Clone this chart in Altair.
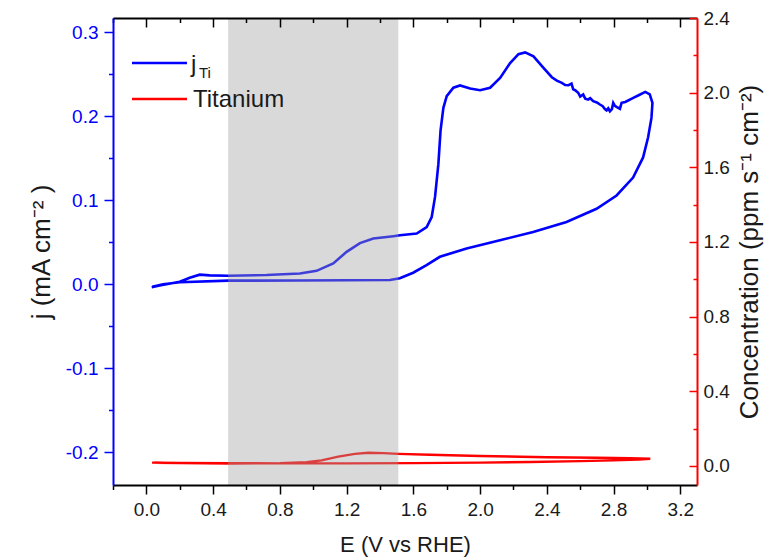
import altair as alt
import pandas as pd

# ---------------- data ----------------
# j_Ti cyclic voltammogram: (E / V vs RHE, j / mA cm^-2) in scan order
jti_points = [
    (0.032, -0.0036), (0.08, -0.0015), (0.12, 0.000), (0.20, 0.003), (0.26, 0.0078),
    (0.32, 0.0114), (0.38, 0.0106), (0.49, 0.0101), (0.72, 0.011), (0.92, 0.0128),
    (1.02, 0.016), (1.12, 0.0248), (1.20, 0.0386), (1.28, 0.049), (1.36, 0.0544),
    (1.48, 0.0572), (1.52, 0.0583), (1.62, 0.0603), (1.68, 0.068), (1.71, 0.080),
    (1.73, 0.104), (1.75, 0.143), (1.763, 0.183), (1.78, 0.210), (1.80, 0.224),
    (1.84, 0.234), (1.88, 0.2367), (1.94, 0.233), (2.00, 0.231), (2.06, 0.234),
    (2.12, 0.2457), (2.18, 0.2634), (2.23, 0.274), (2.27, 0.276), (2.32, 0.2714),
    (2.38, 0.2576), (2.43, 0.2465), (2.46, 0.2425), (2.49, 0.2398), (2.51, 0.2372),
    (2.53, 0.237), (2.548, 0.2388), (2.558, 0.232), (2.57, 0.231), (2.588, 0.228),
    (2.60, 0.2235), (2.618, 0.226), (2.63, 0.221), (2.648, 0.220), (2.66, 0.2215),
    (2.678, 0.218), (2.70, 0.2165), (2.718, 0.214), (2.735, 0.212), (2.748, 0.2085),
    (2.758, 0.207), (2.768, 0.2095), (2.778, 0.206), (2.79, 0.2085), (2.798, 0.216),
    (2.808, 0.2125), (2.82, 0.211), (2.838, 0.209), (2.848, 0.216), (2.87, 0.217),
    (2.918, 0.222), (2.95, 0.225), (2.99, 0.229), (3.017, 0.226), (3.033, 0.216),
    (3.027, 0.198), (3.007, 0.175), (2.977, 0.151), (2.917, 0.127), (2.818, 0.1057),
    (2.698, 0.0899), (2.518, 0.0741), (2.318, 0.0623), (2.119, 0.0524), (1.919, 0.0426),
    (1.759, 0.0327), (1.679, 0.0228), (1.599, 0.0137), (1.519, 0.0071), (1.46, 0.0050),
    (1.20, 0.0048), (0.90, 0.0045), (0.49, 0.0043), (0.20, 0.0024), (0.10, 0.0000),
    (0.035, -0.0030),
]

# Titanium concentration: (E / V vs RHE, c / ppm s^-1 cm^-2) in scan order
ti_points = [
    (0.034, 0.018), (0.2, 0.015), (0.5, 0.013), (0.8, 0.015), (0.96, 0.020),
    (1.05, 0.030), (1.15, 0.050), (1.25, 0.065), (1.33, 0.071), (1.42, 0.069),
    (1.51, 0.065), (1.7, 0.060), (2.0, 0.053), (2.4, 0.047), (2.7, 0.044),
    (2.9, 0.041), (3.02, 0.039), (2.95, 0.034), (2.8, 0.030), (2.6, 0.026),
    (2.3, 0.021), (2.0, 0.018), (1.6, 0.015), (1.2, 0.014), (0.8, 0.014),
    (0.5, 0.015), (0.2, 0.016), (0.05, 0.017),
]

shade_range = [0.49, 1.51]          # shaded potential window

x_major = [0.0, 0.4, 0.8, 1.2, 1.6, 2.0, 2.4, 2.8, 3.2]
x_minor = [-0.2, 0.2, 0.6, 1.0, 1.4, 1.8, 2.2, 2.6, 3.0]
j_major = [-0.2, -0.1, 0.0, 0.1, 0.2, 0.3]
j_minor = [-0.15, -0.05, 0.05, 0.15, 0.25]
c_major = [0.0, 0.4, 0.8, 1.2, 1.6, 2.0, 2.4]
c_minor = [0.2, 0.6, 1.0, 1.4, 1.8, 2.2]

x_domain = [-0.2, 3.3]
j_domain = [-0.239, 0.317]
c_domain = [-0.102, 2.4]

# ---------------- build ----------------
df_j = pd.DataFrame({"E": [p[0] for p in jti_points],
                     "j": [p[1] for p in jti_points],
                     "i": list(range(len(jti_points)))})
df_c = pd.DataFrame({"E": [p[0] for p in ti_points],
                     "c": [p[1] for p in ti_points],
                     "i": list(range(len(ti_points)))})
df_shade = pd.DataFrame({"x0": [shade_range[0]], "x1": [shade_range[1]]})
one = pd.DataFrame({"k": [0]})

W, H = 584, 467
FONT = "Liberation Sans"
BLUE = "#0000ff"
RED = "#ff0000"
TXT = "#1a1a1a"
HYPHEN_LABEL = "replace(format(datum.value, '.1f'), '\u2212', '-')"

xs = alt.Scale(domain=x_domain, nice=False, zero=False)
js = alt.Scale(domain=j_domain, nice=False, zero=False)
cs = alt.Scale(domain=c_domain, nice=False, zero=False)

common = dict(grid=False, zindex=1, labelFont=FONT, titleFont=FONT)

# bottom / left major axes (with labels) on the visible j line
ax_bottom = alt.Axis(orient="bottom", values=x_major, format=".1f", tickSize=9, tickWidth=1.5,
                     tickColor="black", domainColor="black", domainWidth=2,
                     labelFontSize=19, labelColor=TXT, labelPadding=6,
                     title="E (V vs RHE)", titleFontSize=22, titleFontWeight="normal",
                     titleColor=TXT, titlePadding=15, **common)
ax_left = alt.Axis(orient="left", values=j_major, labelExpr=HYPHEN_LABEL, tickSize=9,
                   tickWidth=1.5, tickColor=BLUE, domainColor=BLUE, domainWidth=2,
                   labelFontSize=19, labelColor=BLUE, labelPadding=6,
                   title="j (mA cm⁻² )", titleFontSize=26, titleFontWeight="normal",
                   titleColor=TXT, titlePadding=11, **common)
blue_line = alt.Chart(df_j).mark_line(color=BLUE, strokeWidth=2.6).encode(
    x=alt.X("E:Q", scale=xs, axis=ax_bottom),
    y=alt.Y("j:Q", scale=js, axis=ax_left),
    order="i:Q",
)

# minor outward ticks, bottom and left
blue_minor = alt.Chart(df_j).mark_line(opacity=0).encode(
    x=alt.X("E:Q", scale=xs, axis=alt.Axis(orient="bottom", values=x_minor, tickSize=4.5,
                                            tickWidth=1.5, tickColor="black", domain=False,
                                            labels=False, title=None, **common)),
    y=alt.Y("j:Q", scale=js, axis=alt.Axis(orient="left", values=j_minor, tickSize=4.5,
                                            tickWidth=1.5, tickColor=BLUE, domain=False,
                                            labels=False, title=None, **common)),
    order="i:Q",
)

# visible Ti line: top frame line and red right-hand axis line
red_line = alt.Chart(df_c).mark_line(color=RED, strokeWidth=2.4).encode(
    x=alt.X("E:Q", scale=xs, axis=alt.Axis(orient="top", ticks=False, labels=False,
                                            domainColor="black", domainWidth=2, title=None,
                                            **common)),
    y=alt.Y("c:Q", scale=cs, axis=alt.Axis(orient="right", ticks=False, labels=False,
                                            domainColor=RED, domainWidth=2, title=None,
                                            **common)),
    order="i:Q",
)

# inward major ticks on top and right (+ right labels and title)
red_major = alt.Chart(df_c).mark_line(opacity=0).encode(
    x=alt.X("E:Q", scale=xs, axis=alt.Axis(orient="top", values=x_major, offset=-9, tickSize=9,
                                            tickWidth=1.5, tickColor="black", domain=False,
                                            labels=False, title=None, **common)),
    y=alt.Y("c:Q", scale=cs, axis=alt.Axis(orient="right", values=c_major, format=".1f",
                                            offset=-8, tickSize=8, tickWidth=1.5, tickColor=RED,
                                            domain=False, labelFontSize=19, labelColor=TXT,
                                            labelPadding=6,
                                            title="Concentration (ppm s⁻¹ cm⁻²)",
                                            titleFontSize=26, titleFontWeight="normal",
                                            titleColor=TXT, titleAngle=270, titleBaseline="top",
                                            titlePadding=7, **common)),
    order="i:Q",
)

# inward minor ticks on top and right
red_minor = alt.Chart(df_c).mark_line(opacity=0).encode(
    x=alt.X("E:Q", scale=xs, axis=alt.Axis(orient="top", values=x_minor, offset=-4.5,
                                            tickSize=4.5, tickWidth=1.5, tickColor="black",
                                            domain=False, labels=False, title=None, **common)),
    y=alt.Y("c:Q", scale=cs, axis=alt.Axis(orient="right", values=c_minor, offset=-4,
                                            tickSize=4, tickWidth=1.5, tickColor=RED,
                                            domain=False, labels=False, title=None, **common)),
    order="i:Q",
)

# grey potential window drawn over the curves
shade = alt.Chart(df_shade).mark_rect(color="#a0a0a0", opacity=0.4).encode(
    x=alt.X("x0:Q", scale=xs, axis=None),
    x2="x1:Q",
    y=alt.value(0),
    y2=alt.value(H),
)

# hand-made legend
leg_j_line = alt.Chart(one).mark_rule(color=BLUE, strokeWidth=2.6).encode(
    x=alt.value(19), x2=alt.value(74), y=alt.value(45))
leg_t_line = alt.Chart(one).mark_rule(color=RED, strokeWidth=2.6).encode(
    x=alt.value(19), x2=alt.value(74), y=alt.value(81))
leg_j = alt.Chart(one).mark_text(text="j", font=FONT, fontSize=24, color=TXT, align="left",
                                 baseline="alphabetic").encode(x=alt.value(78), y=alt.value(54))
leg_ti = alt.Chart(one).mark_text(text="Ti", font=FONT, fontSize=15, color=TXT, align="left",
                                  baseline="alphabetic").encode(x=alt.value(86), y=alt.value(60))
leg_t = alt.Chart(one).mark_text(text="Titanium", font=FONT, fontSize=24, color=TXT,
                                 align="left", baseline="alphabetic").encode(
    x=alt.value(80), y=alt.value(89))

chart = alt.layer(
    blue_line, blue_minor, red_line, red_major, red_minor, shade,
    leg_j_line, leg_t_line, leg_j, leg_ti, leg_t,
).resolve_scale(
    y="independent"
).resolve_axis(
    x="independent", y="independent"
).properties(
    width=W, height=H,
    autosize=alt.AutoSizeParams(type="none"),
    padding={"left": 105, "top": 10, "right": 67, "bottom": 75},
).configure_view(stroke=None)

chart.save("out.html", embed_options={"renderer": "svg", "actions": False})
